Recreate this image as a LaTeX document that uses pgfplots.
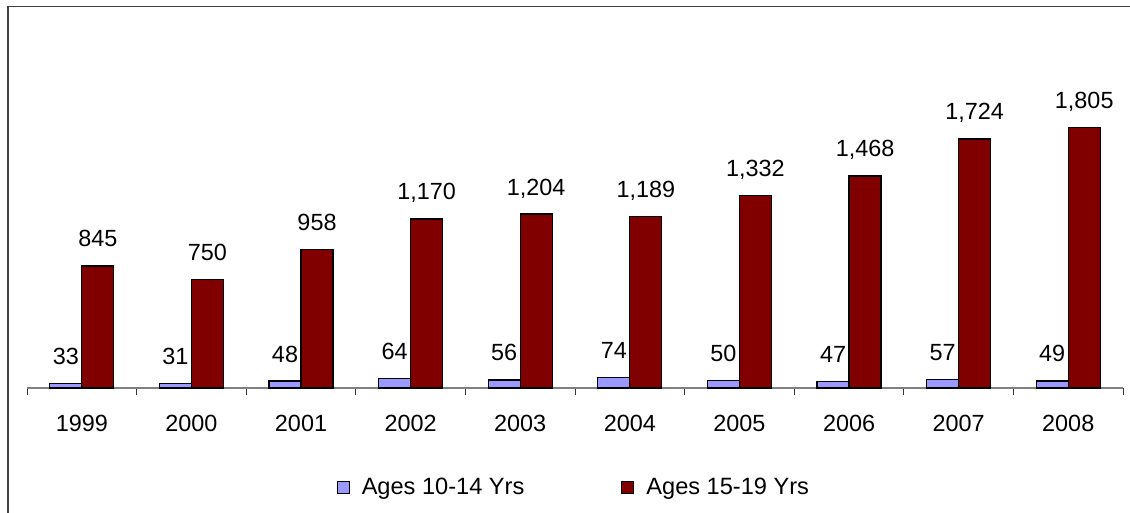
\documentclass[border=0pt]{standalone}
\usepackage{pgfplots}
\pgfplotsset{compat=1.18}
\usepackage{fontspec}
\setmainfont{Liberation Sans}
\definecolor{cblue}{HTML}{9999FF}
\definecolor{cred}{HTML}{800000}
\begin{document}
\begin{tikzpicture}[x=1pt,y=1pt]
\useasboundingbox (0,0) rectangle (1130,512);
\fill[white] (0,0) rectangle (1130,512);
\draw[black!75, line width=1.3pt] (8,-5) -- (8,505.5) -- (1135,505.5);
\begin{axis}[
  at={(27pt,124pt)}, anchor=south west,
  scale only axis, width=1096pt, height=289pt,
  xmin=-0.5, xmax=9.5, ymin=0, ymax=2000,
  axis x line*=bottom, axis y line=none,
  axis line style={black!50, line width=1.3pt},
  ybar=0pt, bar width=32pt,
  xtick={0,...,9},
  xticklabels={1999,2000,2001,2002,2003,2004,2005,2006,2007,2008},
  major tick length=0pt,
  minor xtick={-0.5,0.5,...,9.5},
  minor tick length=7pt,
  tick align=outside,
  minor tick style={black!80, line width=0.8pt},
  xticklabel style={font=\fontsize{23.4}{28}\selectfont, anchor=base, yshift=-43pt},
  /pgf/number format/assume math mode=true,
  nodes near coords,
  nodes near coords style={font=\fontsize{23.4}{28}\selectfont, anchor=base, yshift=19pt, inner sep=0pt,
    /pgf/number format/.cd, fixed, precision=0, 1000 sep={,}},
  legend columns=2,
  legend style={draw=none, fill=none, at={(0.499,-0.3426)}, anchor=center,
    font=\fontsize{23.6}{28}\selectfont,
    /tikz/every odd column/.append style={column sep=10pt},
    /tikz/every even column/.append style={column sep=95pt}},
  legend image code/.code={\draw[#1, draw=black, line width=1pt] (0pt,-6pt) rectangle (12pt,6pt);},
]
\addplot[fill=cblue, draw=black, line width=1.3pt] coordinates {
(0,33) (1,31) (2,48) (3,64) (4,56) (5,74) (6,50) (7,47) (8,57) (9,49)};
\addplot[fill=cred, draw=black, line width=1.3pt] coordinates {
(0,845) (1,750) (2,958) (3,1170) (4,1204) (5,1189) (6,1332) (7,1468) (8,1724) (9,1805)};
\legend{Ages 10-14 Yrs, Ages 15-19 Yrs}
\end{axis}
\end{tikzpicture}
\end{document}
